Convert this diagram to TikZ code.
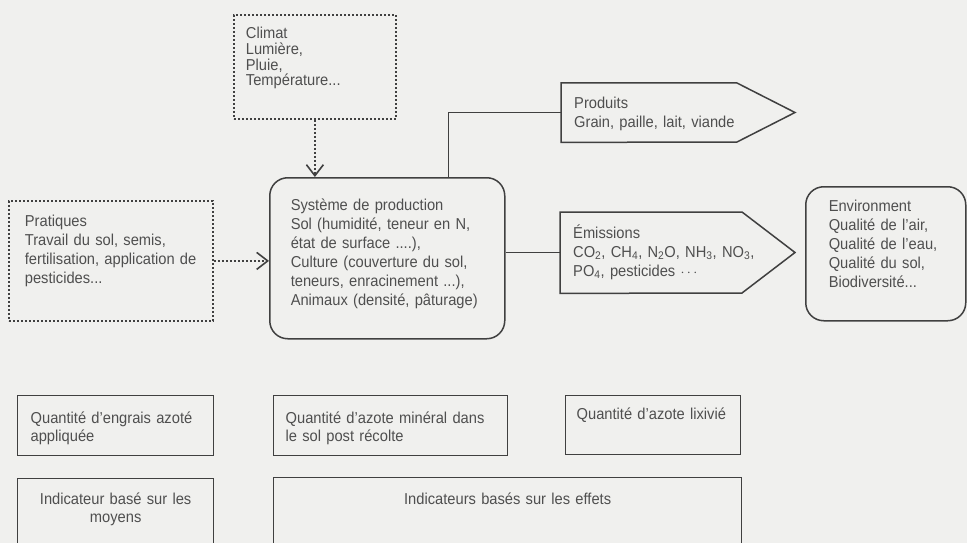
\documentclass[tikz,border=0pt]{standalone}
\usepackage{fontspec}
\setmainfont{Liberation Sans}[FakeStretch=0.93]
\usepackage{tikz}
\usetikzlibrary{arrows.meta}
\definecolor{fond}{HTML}{F0F0EE}
\definecolor{gristrait}{HTML}{404040}
\definecolor{encre}{HTML}{4F4F4F}
\tikzset{
    texte/.style={font=\fontsize{15.8}{19}\selectfont, text=encre, align=left, inner ysep=0pt},
    hd/.style 2 args={text height=#1, text depth=#2},
    cadre/.style={texte, draw=gristrait, line width=1.3pt},
    bulle/.style={cadre, line width=1.5pt, rounded corners=18pt},
    pointille/.style={draw=gristrait, line width=1.8pt, dash pattern=on 2pt off 2pt},
    lien/.style={draw=gristrait, line width=1.5pt},
    fleche/.style={-{Straight Barb[length=11pt,width=17pt,line width=1.6pt]}},
    petit/.style={font=\fontsize{15.8}{18}\selectfont}
}

\begin{document}
\begin{tikzpicture}[x=1pt,y=-1pt]
          \useasboundingbox (0,0) rectangle (967,543);
          \clip (0,0) rectangle (967,543);
          \fill[fond] (0,0) rectangle (967,543);

          % Facteurs en entree
          \node[cadre, pointille, anchor=north west, inner xsep=12pt, text width=138pt, hd={24pt}{80pt},
                font=\fontsize{15.8}{15.7}\selectfont] (climat) at (233,14) {Climat\\Lumière,\\Pluie,\\Température...};
          \node[cadre, pointille, anchor=north west, inner xsep=16pt, text width=172pt, hd={26pt}{94pt}] (pratiques) at (8,200)
                {Pratiques\\Travail du sol, semis,\\fertilisation, application de\\pesticides...};

          % Systeme de production
          \node[bulle, anchor=north west, inner xsep=21pt, text width=193pt, hd={33pt}{128pt}] (production) at (269,177)
                {Système de production\\Sol (humidité, teneur en N,\\état de surface ....),\\Culture (couverture du sol,\\teneurs, enracinement ...),\\Animaux (densité, pâturage)};

          % Sorties
          \node[texte, anchor=north west, inner xsep=13pt, text width=180pt, hd={25.5pt}{33.5pt}] (produits) at (561,83)
                {Produits\\Grain, paille, lait, viande};
          \draw[lien] (produits.north west) -- ++(176,0) -- ++(58,29.5) -- ++(-58,29.5) -- (produits.south west) -- cycle;
          \node[texte, anchor=north west, inner xsep=13pt, text width=205pt, hd={26pt}{55pt}] (emissions) at (560,212)
                {Émissions\\CO\textsubscript{2}, CH\textsubscript{4}, N\textsubscript{2}O, NH\textsubscript{3}, NO\textsubscript{3},\\PO\textsubscript{4}, pesticides $\cdots$};
          \draw[lien] (emissions.north west) -- ++(182,0) -- ++(53,40.5) -- ++(-53,40.5) -- (emissions.south west) -- cycle;
          \node[bulle, anchor=north west, inner xsep=23pt, text width=114pt, hd={25pt}{109pt}] (environnement) at (805,186)
                {Environment\\Qualité de l'air,\\Qualité de l'eau,\\Qualité du sol,\\Biodiversité...};

          % Liens
          \draw[pointille, fleche] (climat.south) -- (climat.south |- production.north);
          \draw[pointille, fleche] (pratiques.east) -- (pratiques.east -| production.west);
          \draw[lien] (produits.west) -| ([xshift=-57pt]production.north east);
          \draw[lien] (production.east |- emissions.west) -- (emissions.west);

          % Indicateurs
          \node[cadre, petit, anchor=north west, inner xsep=13pt, text width=170pt, hd={28pt}{32pt}] (engrais) at (17,395)
                {Quantité d'engrais azoté\\appliquée};
          \node[cadre, petit, anchor=north west, inner xsep=12pt, text width=210pt, hd={28pt}{32pt}] (azotesol) at (273,395)
                {Quantité d'azote minéral dans\\le sol post récolte};
          \node[cadre, petit, anchor=north west, inner xsep=11pt, text width=153pt, hd={24pt}{35pt}] (lixivie) at (565,395)
                {Quantité d'azote lixivié};
          \node[cadre, petit, align=center, anchor=north west, inner xsep=13pt, text width=170pt, hd={26pt}{46pt}] (moyens) at (17,478)
                {Indicateur basé sur les\\moyens};
          \node[cadre, petit, align=center, anchor=north west, inner xsep=12pt, text width=444pt, hd={27pt}{46pt}] (effets) at (273,477)
                {Indicateurs basés sur les effets};
      \end{tikzpicture}
\end{document}
